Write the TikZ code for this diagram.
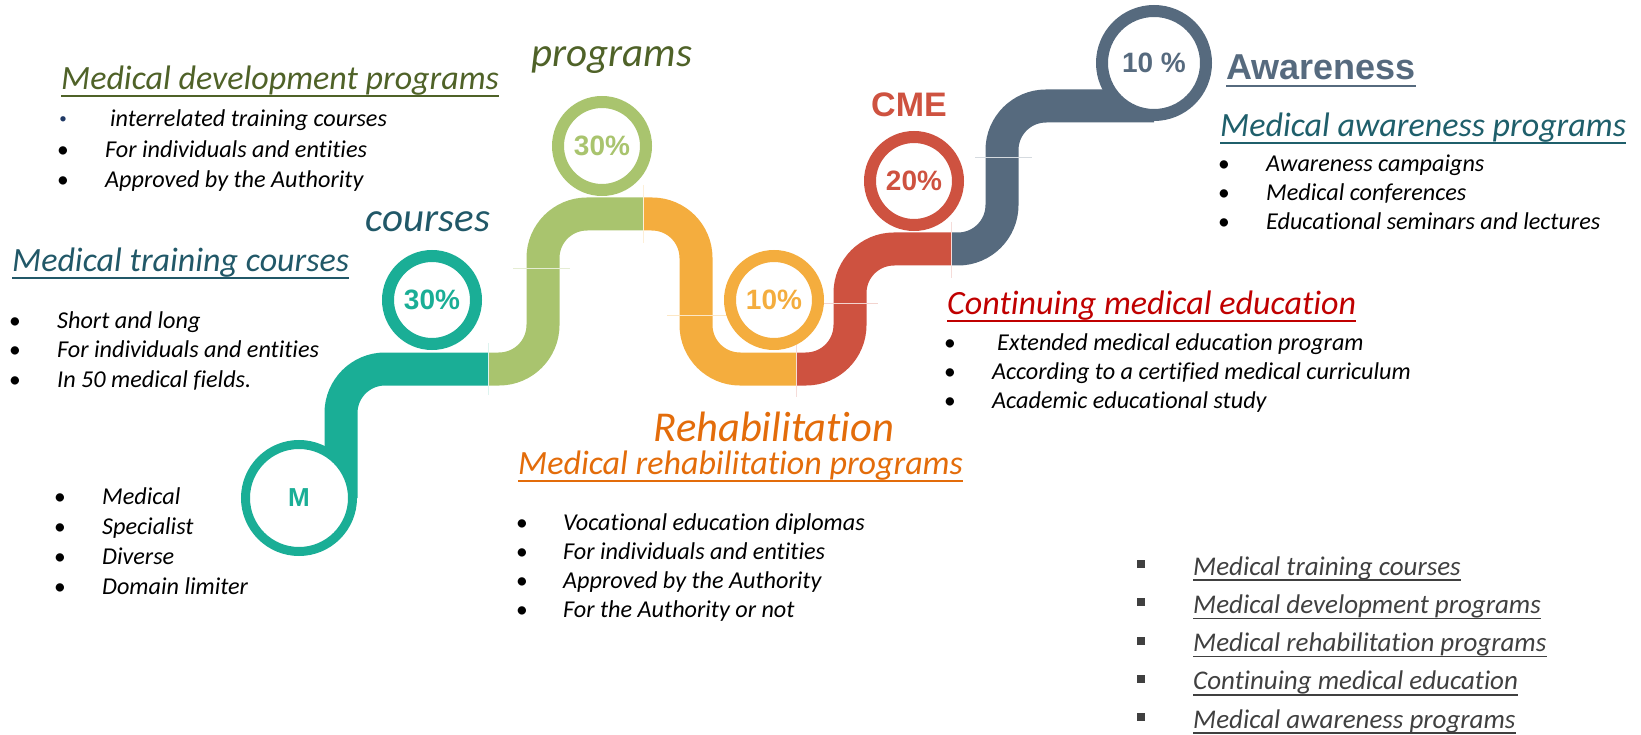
\documentclass[tikz,border=0pt]{standalone}
\usepackage{fontspec}
\setmainfont{Carlito}[Ligatures={NoCommon,NoRequired,NoContextual}]
\newfontfamily\headfont{Liberation Sans}
\usepackage{tikz}

\definecolor{tealband}{HTML}{1AAE96}
\definecolor{greenband}{HTML}{A9C46E}
\definecolor{orangeband}{HTML}{F4AD3E}
\definecolor{redband}{HTML}{CE5240}
\definecolor{grayband}{HTML}{566A7E}
\definecolor{olivetext}{HTML}{4F6228}
\definecolor{tealtext}{HTML}{215868}
\definecolor{awaretext}{HTML}{1F5F6B}
\definecolor{orangetext}{HTML}{E36C0A}
\definecolor{redtext}{HTML}{C00000}
\definecolor{indextext}{HTML}{404040}
\definecolor{navydot}{HTML}{1F3864}

\begin{document}
\begin{tikzpicture}[x=1pt, y=-1pt,
    band/.style={line width=33pt, rounded corners=44pt},
    seam/.style={line width=0.6pt},
    ring/.style={circle, draw, fill=white, line width=12pt, inner sep=0pt, minimum size=88pt,
      font=\headfont\bfseries\fontsize{28}{30}\selectfont},
    title/.style={anchor=base west, inner sep=0pt, font=\itshape\fontsize{34}{36}\selectfont},
    item/.style={anchor=base west, inner sep=0pt, font=\itshape\fontsize{24.2}{26}\selectfont},
    bulletdot/.style={anchor=base, inner sep=0pt, font=\fontsize{23.5}{26}\selectfont},
    keyword/.style={anchor=base, inner sep=0pt, font=\itshape\fontsize{41}{44}\selectfont},
    indexitem/.style={anchor=base west, inner sep=0pt, text=indextext, font=\itshape\fontsize{27}{30}\selectfont},
    indexsquare/.style={fill=indextext, minimum size=8pt, inner sep=0pt},
  ]
    \useasboundingbox (0,0) rectangle (1641,735);

    % Define the macros.
    % \sectionTitle: 1st argument node name, 2nd/3rd baseline start, 4th colour, 5th text.
    \newcommand{\sectionTitle}[5]{
      \node[title, text=#4] (#1) at (#2,#3) {#5};
      \draw[#4, line width=2pt] ([yshift=-6.5pt]#1.base west) -- ([yshift=-6.5pt]#1.base east); % underline
    }
    % \bulletList: 1st argument name prefix, 2nd bullet x, 3rd text x,
    % 4th first baseline, 5th line step, 6th the items.
    \newcommand{\bulletList}[6]{
      \foreach \txt [count=\i] in {#6}{
        \node[bulletdot] (#1-dot-\i) at (#2,{#4+#5*(\i-1)}) {\textbullet};
        \node[item] (#1-\i) at (#3,{#4+#5*(\i-1)}) {\txt};
      }
    }

    % Joins where the colour of the road changes.
    \coordinate (start) at (341,498);
    \coordinate (tealGreen) at (488,369);
    \coordinate (greenOrange) at (643,214);
    \coordinate (orangeRed) at (796,369);
    \coordinate (redGray) at (951,249);
    \coordinate (finish) at (1154,106);

    % The road.
    \draw[band, tealband] (start) -- (341,369) -- (tealGreen);
    \draw[band, greenband] (tealGreen) -- (543,369) -- (543,214) -- (greenOrange);
    \draw[band, orangeband] (greenOrange) -- (696,214) -- (696,369) -- (orangeRed);
    \draw[band, redband] (orangeRed) -- (850,369) -- (850,249) -- (redGray);
    \draw[band, grayband] (redGray) -- (1002,249) -- (1002,106) -- (finish);

    % Faint seams.
    \draw[seam, tealband!15] (488,343) -- (488,395);
    \draw[seam, greenband!30] (513,268) -- (570,268);
    \draw[seam, orangeband!20] (643,185) -- (643,243);
    \draw[seam, orangeband!30] (667,315) -- (727,315);
    \draw[seam, redband!20] (796,343) -- (796,397);
    \draw[seam, redband!25] (823,303) -- (878,303);
    \draw[seam, redband!20] (951,222) -- (951,278);
    \draw[seam, grayband!25] (975,157) -- (1032,157);

    % Rings.
    \node[ring, draw=tealband, text=tealband, line width=9pt, minimum size=107pt,
      font=\headfont\bfseries\fontsize{26}{28}\selectfont] (mRing) at (299,498) {M};
    \node[ring, draw=tealband, text=tealband] (coursesRing) at (432,300) {30\%};
    \node[ring, draw=greenband, text=greenband] (programsRing) at (602,146) {30\%};
    \node[ring, draw=orangeband, text=orangeband] (rehabRing) at (774,300) {10\%};
    \node[ring, draw=redband, text=redband] (cmeRing) at (914,181) {20\%};
    \node[ring, draw=grayband, text=grayband, minimum size=104pt] (awareRing) at (1154,63) {10 \%};

    % Keywords above the rings.
    \node[keyword, text=tealtext] (coursesWord) at (428,232) {courses};
    \node[keyword, text=olivetext] (programsWord) at (612,67) {programs};
    \node[keyword, text=orangetext, font=\itshape\fontsize{42.5}{44}\selectfont] (rehabWord) at (774,441) {Rehabilitation};
    \node[anchor=base, inner sep=0pt, text=redband, font=\headfont\bfseries\fontsize{34}{36}\selectfont] (cmeWord) at (909,117) {CME};
    \node[anchor=base west, inner sep=0pt, text=grayband, font=\headfont\bfseries\fontsize{36}{38}\selectfont] (awareWord) at (1226,80) {Awareness};
    \draw[grayband, line width=2.5pt] ([yshift=-6pt]awareWord.base west) -- ([yshift=-6pt]awareWord.base east);

    % Titles.
    \sectionTitle{devTitle}{61}{90}{olivetext}{Medical development programs}
    \sectionTitle{trainTitle}{12}{272}{tealtext}{Medical training courses}
    \sectionTitle{rehabTitle}{518}{474}{orangetext}{Medical rehabilitation programs}
    \sectionTitle{cmeTitle}{947}{315}{redtext}{Continuing medical education}
    \sectionTitle{awareTitle}{1220}{137}{awaretext}{Medical awareness programs}

    % Lists.
    \node[bulletdot, text=navydot, font=\fontsize{15}{16}\selectfont] (dev-dot-0) at (63,124) {\textbullet};
    \node[item] (dev-0) at (110,127) {interrelated training courses};
    \bulletList{dev}{63}{105}{158}{30}{For individuals and entities, Approved by the Authority}
    \bulletList{train}{15}{57}{328}{29.5}{Short and long, For individuals and entities, In 50 medical fields.}
    \bulletList{kind}{60}{102}{504}{30}{Medical, Specialist, Diverse, Domain limiter}
    \bulletList{rehab}{522}{563}{530}{29.3}{Vocational education diplomas, For individuals and entities, Approved by the Authority, For the Authority or not}
    \bulletList{cme}{950}{992}{350}{29}{\hspace*{5pt}Extended medical education program, According to a certified medical curriculum, Academic educational study}
    \bulletList{aware}{1224}{1266}{172}{29}{Awareness campaigns, Medical conferences, Educational seminars and lectures}

    % Index at the bottom right.
    \foreach \txt [count=\i] in {Medical training courses, Medical development programs, Medical rehabilitation programs, Continuing medical education, Medical awareness programs}{
      \node[indexsquare] (index-sq-\i) at (1141,{564+38.3*(\i-1)}) {};
      \node[indexitem] (index-\i) at (1193,{575+38.3*(\i-1)}) {\txt};
      \draw[indextext, line width=1.5pt] ([yshift=-5pt]index-\i.base west) -- ([yshift=-5pt]index-\i.base east);
    }
\end{tikzpicture}
\end{document}
